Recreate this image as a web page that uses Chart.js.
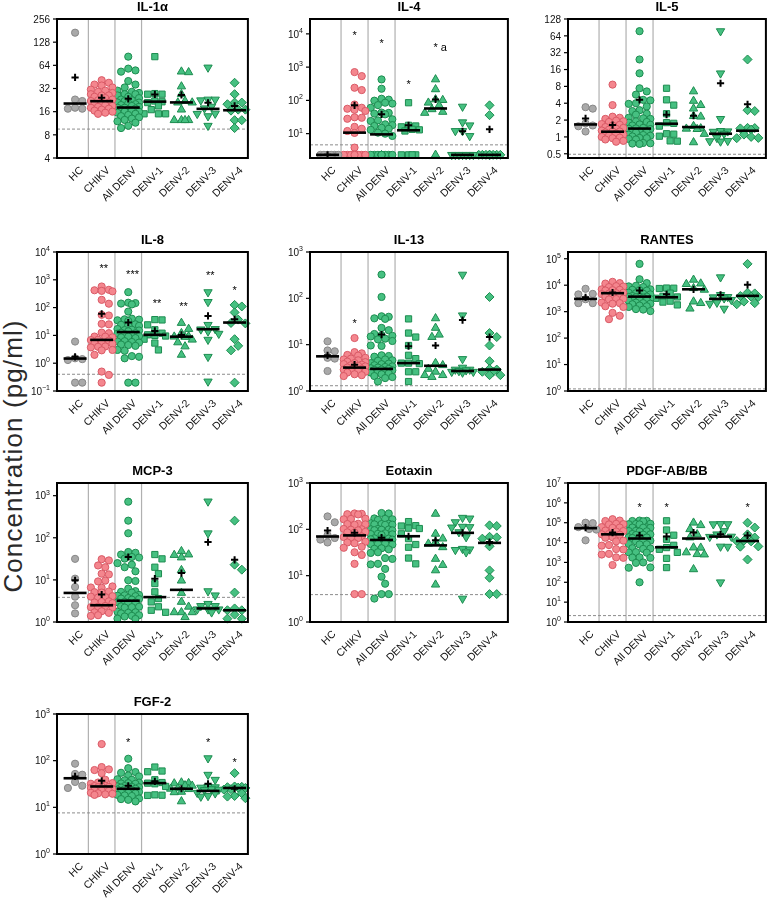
<!DOCTYPE html>
<html>
<head>
<meta charset="utf-8">
<script src="https://cdn.jsdelivr.net/npm/chart.js@4.4.1/dist/chart.umd.min.js"></script>
<style>
  body { margin: 0; background: #fff; }
  #page { position: relative; width: 778px; height: 899px; overflow: hidden; }
  #page canvas { position: absolute; }
  #ylab {
    position: absolute; left: -138px; top: 442px; width: 300px; height: 28px;
    line-height: 28px; text-align: center; transform: rotate(-90deg);
    font: 26px "Liberation Sans", Arial, sans-serif; letter-spacing: 1.1px; color: #2a2a2a;
  }
</style>
</head>
<body>
<div id="page">
  <div id="ylab">Concentration (pg/ml)</div>
</div>
<script>
// groupes communs a tous les panneaux
const groups = ['HC', 'CHIKV', 'All DENV', 'DENV-1', 'DENV-2', 'DENV-3', 'DENV-4'];

// IL-1a
const il1aValues = [
  [170, 23, 22, 17.5, 18, 17.5],
  [41, 38, 36, 35, 33, 31, 30, 29, 28, 27, 26, 26, 25, 24, 23, 22.5, 22, 21, 21, 20, 19.5, 19, 18.5, 18, 17.5, 17, 16.5, 16, 15.5, 15],
  [83, 58, 55, 53, 40, 36, 33, 30, 29, 28, 27, 27, 26, 25, 24, 23, 22.5, 22, 21, 21, 20.5, 20, 19.5, 19, 18.5, 18, 18, 17.5, 17, 17, 16.5, 16, 16, 15.5, 15, 14.5, 14, 13.5, 13, 12.5, 12, 11.5, 10.5, 9.8],
  [83, 27.5, 27, 27, 22, 21.5, 21, 19, 17, 15, 15, 15],
  [53, 52, 34, 27, 22, 21, 21, 17, 12.4, 12.4, 12.4, 12.4],
  [60, 23, 23, 22.5, 18.6, 17.7, 15.1, 15, 14, 10.5],
  [38, 27, 21, 21, 20, 17, 17, 16.5, 12.4, 12.4, 9.8]
];
const il1aMedians = [20.4, 21.9, 18.1, 21.6, 21.1, 17.4, 16.7];
const il1aMeans = [44.6, 24.2, 23.5, 26.8, 26.4, 20.9, 19];
const il1aStars = [];

// IL-4
const il4Values = [
  [2.3, 2.3, 2.3, 2.3, 2.3, 2.3],
  [708, 537, 240, 204, 75, 60, 56, 52, 48, 31, 30, 28, 16, 14, 12, 10.5, 3.8, 2.3, 2.3, 2.3, 2.3, 2.3, 2.3, 2.3, 2.3],
  [427, 224, 112, 105, 98, 85, 80, 72, 60, 43, 42, 40, 38, 27, 25, 24, 19, 18, 17, 15, 14, 13, 10.7, 10, 8.5, 2.3, 2.3, 2.3, 2.3, 2.3, 2.3, 2.3, 2.3, 2.3, 2.3, 2.3, 2.3, 2.3, 2.3],
  [85, 17.8, 17, 16, 13.5, 13, 12, 2.3, 2.3, 2.3, 2.3],
  [427, 215, 107, 102, 85, 71, 54, 45, 42, 2.3],
  [65, 22, 17.8, 12, 12, 8.5, 2.3, 2.3, 2.3, 2.3, 2.3, 2.3, 2.3],
  [71, 36, 2.3, 2.3, 2.3, 2.3, 2.3, 2.3, 2.3, 2.3, 2.3, 2.3]
];
const il4Medians = [2.3, 10.7, 9.5, 12.6, 57, 2.3, 2.3];
const il4Means = [2.3, 71, 38, 17.8, 107, 11.7, 13.5];
const il4Stars = [[1, 10000, '*'], [2, 5750, '*'], [3, 340, '*'], [4, 4470, '* a']];

// IL-5
const il5Values = [
  [3.2, 3.4, 1.75, 1.6, 1.55, 1.25],
  [8.6, 3.7, 2.3, 2.2, 2.1, 1.95, 1.9, 1.85, 1.7, 1.65, 1.6, 1.5, 1.45, 1.4, 1.35, 1.3, 1.25, 1.25, 1.2, 1.15, 1.1, 1.05, 1.0, 0.97, 0.95, 0.9, 0.85, 0.82],
  [77.6, 24.2, 13.7, 7.4, 6.5, 5.7, 4.6, 4.5, 4.0, 3.9, 3.5, 3.0, 2.9, 2.6, 2.5, 2.2, 2.15, 2.1, 1.9, 1.85, 1.8, 1.67, 1.65, 1.6, 1.45, 1.42, 1.4, 1.38, 1.26, 1.25, 1.22, 1.2, 1.1, 1.08, 1.05, 1.02, 0.96, 0.95, 0.92, 0.9, 0.78, 0.77, 0.76, 0.75],
  [7.4, 4.6, 3.7, 2.6, 1.8, 1.75, 1.56, 1.14, 1.12, 1.03, 0.85, 0.84],
  [6.5, 4.4, 3.7, 3.2, 2.35, 2.3, 1.56, 1.42, 1.4, 1.38, 1.13, 0.8],
  [77.6, 13.7, 2.1, 1.28, 1.26, 1.24, 1.14, 0.96, 0.85, 0.84, 0.83],
  [24.2, 3.0, 2.9, 1.45, 1.44, 1.42, 1.35, 1.1, 1.0, 0.96, 0.95]
];
const il5Medians = [1.67, 1.24, 1.41, 1.72, 1.5, 1.14, 1.29];
const il5Means = [2.14, 1.63, 4.6, 2.5, 2.4, 9.1, 3.83];
const il5Stars = [];

// IL-8
const il8Values = [
  [6.0, 1.4, 1.3, 1.5, 0.2, 0.2],
  [575, 437, 420, 400, 385, 190, 138, 55, 52, 26, 25, 12.6, 12, 9.1, 9, 8.5, 7.0, 6.8, 6.5, 5.3, 5.2, 5.0, 4.0, 3.9, 3.7, 3.0, 2.9, 2.0, 0.5, 0.38, 0.2],
  [360, 150, 145, 140, 130, 72, 40, 38, 37, 35, 33, 25, 24, 23, 22, 17, 16, 15.5, 15, 14, 12.5, 12, 11.5, 11, 10, 9.5, 9, 8.5, 8, 6.2, 6, 5.8, 5.5, 4.7, 4.5, 4.2, 3.0, 2.8, 1.8, 1.7, 1.5, 0.2, 0.2],
  [37, 36, 24, 16, 12, 10.5, 10, 9.5, 7.3, 5.3, 3.0],
  [28, 17, 12, 9.2, 9, 8.8, 7, 5.6, 4, 2.0],
  [360, 160, 24, 17, 16.5, 14, 11.5, 7, 1.7, 0.22],
  [125, 110, 67, 37, 28, 27, 7.3, 4.2, 2.9, 0.2]
];
const il8Medians = [1.47, 6.9, 13.2, 10.5, 9.0, 16.7, 29];
const il8Means = [1.7, 60, 29, 14.5, 10.4, 50, 38];
const il8Stars = [[1, 3000, '**'], [2, 1750, '***'], [3, 166, '**'], [4, 120, '**'], [5, 1660, '**'], [6, 465, '*']];

// IL-13
const il13Values = [
  [11.8, 7.5, 7.2, 5.2, 5.0, 2.7],
  [13.9, 6.9, 6.5, 6.0, 5.8, 5.2, 5.0, 4.8, 4.6, 4.3, 4.2, 4.0, 3.8, 3.7, 3.6, 3.5, 3.4, 3.2, 3.1, 3.0, 2.9, 2.8, 2.7, 2.6, 2.5, 2.3, 2.2, 2.1],
  [325, 107, 41, 40, 37, 36, 23, 20.5, 17, 16, 15.5, 15, 13.5, 13, 12, 9.6, 9.4, 5.9, 5.7, 5.5, 4.8, 4.6, 4.5, 4.0, 3.9, 3.8, 3.6, 3.4, 3.3, 3.2, 3.1, 3.0, 2.9, 2.85, 2.8, 2.7, 2.6, 2.5, 2.4, 2.3, 2.1, 2.0, 1.9, 1.6],
  [36, 17.8, 14.6, 9.6, 5.9, 5.0, 4.0, 4.0, 3.9, 2.6, 2.6, 1.6],
  [37, 23, 16.4, 14.6, 4.0, 3.6, 3.0, 2.6, 2.2, 2.2, 2.0],
  [325, 43, 4.9, 3.2, 2.9, 2.9, 2.8, 2.7, 2.6, 2.6, 2.5],
  [107, 17.8, 14.6, 9.6, 4.4, 3.0, 2.9, 2.6, 2.6, 2.2, 2.2]
];
const il13Medians = [5.6, 3.2, 3.0, 4.0, 3.5, 2.7, 2.9];
const il13Means = [5.9, 3.7, 16.5, 9.3, 9.6, 34, 14.6];
const il13Stars = [[1, 31, '*']];

// RANTES
const rantesValues = [
  [7300, 4700, 4500, 2950, 2100, 2100],
  [13400, 12000, 11500, 9200, 8900, 8500, 7000, 6700, 6500, 6300, 5200, 5000, 4800, 4600, 4000, 3900, 3700, 3100, 3000, 2900, 2200, 2100, 2000, 1600, 1500, 900, 700, 520],
  [64000, 16800, 12000, 9500, 9000, 8500, 7000, 6700, 6500, 6200, 5200, 5000, 4800, 4500, 3900, 3800, 3700, 3600, 3500, 3400, 3000, 2900, 2800, 2700, 2600, 2200, 2100, 2000, 1900, 1700, 1600, 1500, 1250, 1200, 1050],
  [7800, 7700, 7500, 5000, 3800, 3600, 3200, 2500, 2300, 1800],
  [16000, 11500, 11000, 7700, 6700, 2400, 2100, 1300],
  [20000, 4300, 3600, 3500, 3200, 2800, 2200, 2000, 1300],
  [64000, 5200, 4900, 3900, 3700, 3600, 2400, 2100, 1900]
];
const rantesMedians = [3040, 5000, 3700, 3500, 7000, 3040, 3950];
const rantesMeans = [3500, 5300, 6300, 4500, 7000, 4300, 10300];
const rantesStars = [];

// MCP-3
const mcp3Values = [
  [31.6, 10.7, 6.8, 4.0, 2.5, 1.6],
  [31, 29, 22, 20, 14, 13.5, 9.6, 9.2, 7, 6.6, 6.5, 5.3, 5.1, 5.0, 4.1, 4.0, 3.9, 3.8, 3.1, 3.0, 2.9, 2.8, 2.4, 2.3, 2.25, 2.2, 1.8, 1.7, 1.65, 1.45, 1.4],
  [720, 255, 128, 46, 44, 40, 35, 34, 32, 25, 23, 20, 16, 9.8, 9.4, 6.2, 5.4, 5.2, 5.0, 4.4, 4.3, 4.2, 4.1, 3.7, 3.6, 3.5, 3.4, 3.0, 2.95, 2.9, 2.85, 2.35, 2.3, 2.25, 2.2, 1.75, 1.7, 1.65, 1.6, 1.45, 1.4, 1.35, 1.2, 1.18],
  [40, 31.6, 20, 14, 8.2, 5.2, 3.6, 3.0, 2.3, 1.9, 1.7],
  [48, 40, 39, 34, 17, 9.6, 4.9, 3.0, 2.3, 1.7, 1.7, 1.7, 1.3],
  [730, 128, 5.4, 4.3, 2.7, 2.4, 2.4, 2.0, 2.0, 2.0, 1.7],
  [255, 23, 17.5, 5.0, 2.1, 1.9, 1.9, 1.5, 1.2, 1.2]
];
const mcp3Medians = [4.9, 2.5, 3.2, 3.9, 5.8, 2.1, 1.9];
const mcp3Means = [9.8, 4.5, 35, 10.7, 14.5, 79, 30];
const mcp3Stars = [];

// Eotaxin
const eotaxinValues = [
  [190, 142, 75, 65, 60, 52],
  [220, 216, 212, 210, 170, 168, 165, 132, 130, 128, 125, 102, 100, 98, 95, 88, 86, 85, 70, 68, 66, 65, 54, 52, 50, 42, 40, 32, 28, 18, 4, 4],
  [225, 220, 172, 168, 165, 160, 135, 132, 130, 128, 126, 125, 102, 100, 99, 98, 96, 95, 82, 80, 79, 78, 76, 64, 63, 62, 61, 60, 50, 49, 48, 47, 39, 38, 37, 32, 31, 24, 23, 18, 17.5, 14, 9.5, 6.7, 4, 4, 3.2],
  [147, 120, 118, 106, 104, 80, 63, 47, 41, 24, 18],
  [216, 80, 63, 53, 49, 41, 23, 17, 13, 6.4],
  [178, 172, 143, 114, 112, 110, 87, 68, 38, 37, 36, 32, 3.2],
  [122, 118, 69, 67, 63, 43, 13, 9, 4, 4]
];
const eotaxinMedians = [70, 74, 59, 71, 45, 84, 51];
const eotaxinMeans = [94, 84, 66, 71, 58, 84, 53];
const eotaxinStars = [];

// PDGF-AB/BB
const pdgfValues = [
  [100000, 95000, 60000, 48000, 45000, 13000],
  [150000, 128000, 122000, 88000, 85000, 82000, 60000, 57000, 55000, 40000, 38000, 36000, 27000, 26000, 25000, 18500, 17500, 12500, 11500, 7500, 7000, 4700, 4500, 2700, 2500, 1800, 1700, 740],
  [128000, 125000, 122000, 118000, 88000, 86000, 84000, 82000, 58000, 57000, 56000, 55000, 39000, 38000, 37000, 36000, 27000, 26000, 25000, 24000, 18500, 18000, 17500, 17000, 12500, 12000, 11500, 8500, 8200, 8000, 5200, 5000, 4800, 3300, 3200, 3100, 1800, 1750, 1700, 1000, 950, 560, 540, 100],
  [125000, 43000, 23500, 14600, 7300, 5600, 4600, 3200, 1600, 550],
  [100000, 75000, 47000, 26000, 18000, 5600, 5500, 3200, 2600, 2500, 450],
  [86000, 85000, 84000, 38000, 26000, 20000, 19500, 6300, 6200, 100],
  [100000, 57000, 26000, 18000, 12500, 12000, 11500, 6400, 6200, 1400]
];
const pdgfMedians = [53000, 26000, 16000, 5800, 16000, 20000, 12000];
const pdgfMeans = [57000, 32000, 23000, 20000, 32000, 26000, 23000];
const pdgfStars = [[2, 710000, '*'], [3, 710000, '*'], [6, 710000, '*']];

// FGF-2
const fgf2Values = [
  [86, 52, 50, 35, 29, 26],
  [227, 73, 65, 63, 54, 39, 34, 33, 32, 29, 28.5, 28, 27.5, 27, 26, 24.5, 24, 23.5, 23, 22.5, 20.5, 20, 19.5, 19, 18.5],
  [110, 69, 57, 55, 48, 46, 40, 39, 38, 34, 33, 32.5, 32, 28.5, 28, 27.5, 27, 26.5, 25.5, 25, 24.5, 24, 23.5, 21.5, 21, 20.5, 20, 18.5, 18, 17.5, 15.5, 15, 14.5, 13.4],
  [73, 60, 58, 39, 34, 33, 32, 28, 18.5, 18.2, 18],
  [34, 33, 32.5, 29.5, 29, 25.5, 25, 24.5, 21.5, 21, 13.4],
  [113, 50, 39, 27.5, 27, 26.5, 24.5, 24, 23.5, 20.5, 20, 17.5, 17],
  [54, 28, 27.5, 27, 26.5, 26, 24.5, 24, 20, 17.5, 17, 15.7]
];
const fgf2Medians = [42, 28, 25, 33, 25, 22.5, 26];
const fgf2Means = [46, 37, 29, 36, 25, 32, 25];
const fgf2Stars = [[2, 270, '*'], [5, 270, '*'], [6, 100, '*']];

// ticks des axes y
const log2Ticks = [4, 8, 16, 32, 64, 128, 256];
const il5Ticks = [0.5, 1, 2, 4, 8, 16, 32, 64, 128];
const pow10Ticks = [0.1, 1, 10, 100, 1000, 10000, 100000, 1000000, 10000000];

// panneaux: titre, donnees, axe y (min, max, ticks), limite de detection
const panels = [
  { title: 'IL-1α', values: il1aValues, medians: il1aMedians, means: il1aMeans, stars: il1aStars, yMin: 4, yMax: 256, ticks: log2Ticks, pow: false, lod: 9.5 },
  { title: 'IL-4', values: il4Values, medians: il4Medians, means: il4Means, stars: il4Stars, yMin: 1.85, yMax: 28000, ticks: [10, 100, 1000, 10000], pow: true, lod: 4.6 },
  { title: 'IL-5', values: il5Values, medians: il5Medians, means: il5Means, stars: il5Stars, yMin: 0.42, yMax: 128, ticks: il5Ticks, pow: false, lod: 0.49 },
  { title: 'IL-8', values: il8Values, medians: il8Medians, means: il8Means, stars: il8Stars, yMin: 0.1, yMax: 10000, ticks: pow10Ticks, pow: true, lod: 0.4 },
  { title: 'IL-13', values: il13Values, medians: il13Medians, means: il13Means, stars: il13Stars, yMin: 1, yMax: 1000, ticks: pow10Ticks, pow: true, lod: 1.3 },
  { title: 'RANTES', values: rantesValues, medians: rantesMedians, means: rantesMeans, stars: rantesStars, yMin: 1, yMax: 180000, ticks: pow10Ticks, pow: true, lod: 1.2 },
  { title: 'MCP-3', values: mcp3Values, medians: mcp3Medians, means: mcp3Means, stars: mcp3Stars, yMin: 1, yMax: 2000, ticks: pow10Ticks, pow: true, lod: 3.85 },
  { title: 'Eotaxin', values: eotaxinValues, medians: eotaxinMedians, means: eotaxinMeans, stars: eotaxinStars, yMin: 1, yMax: 1000, ticks: pow10Ticks, pow: true, lod: 3.9 },
  { title: 'PDGF-AB/BB', values: pdgfValues, medians: pdgfMedians, means: pdgfMeans, stars: pdgfStars, yMin: 1, yMax: 10000000, ticks: pow10Ticks, pow: true, lod: 2.1 },
  { title: 'FGF-2', values: fgf2Values, medians: fgf2Medians, means: fgf2Means, stars: fgf2Stars, yMin: 1, yMax: 1000, ticks: pow10Ticks, pow: true, lod: 7.6 }
];

// zones de trace (gauche, droite, xmin, xmax) et (haut, bas) en pixels de page
const cols = [[57, 259, -0.68, 6.5], [310, 519, -0.65, 6.68], [568, 777, -0.65, 6.68]];
const rows = [[19, 158], [252, 391], [483, 622], [714, 854]];

// styles des groupes
const grey = ['#a9a9a9', '#878787'];
const pink = ['#f4868e', '#d95a66'];
const green = ['#46c081', '#1d8c50'];
const groupStyle = [
  { c: grey, shape: 'circle', r: 3.6, rot: 0 },
  { c: pink, shape: 'circle', r: 3.6, rot: 0 },
  { c: green, shape: 'circle', r: 3.6, rot: 0 },
  { c: green, shape: 'rect', r: 4.4, rot: 0 },
  { c: green, shape: 'triangle', r: 4.8, rot: 0 },
  { c: green, shape: 'triangle', r: 4.8, rot: 180 },
  { c: green, shape: 'rectRot', r: 4.5, rot: 0 }
];

const PADL = 52, PADT = 24, PADR = 3, PADB = 68;
const FONT = '"Liberation Sans", Arial, sans-serif';

// repartition en essaim (beeswarm) dans un groupe, en pixels
function swarm(vals, toPx, unit) {
  const d = 7.6;
  const cands = [0];
  for (let k = 1; k <= 3; k++) cands.push(k * d / 2, -k * d / 2);
  const placed = [];
  const out = new Array(vals.length);
  const idx = vals.map((v, i) => i).sort((a, b) => vals[b] - vals[a]);
  idx.forEach(i => {
    const y = toPx(vals[i]);
    let best = 0, bestGap = -1;
    for (const c of cands) {
      let gap = Infinity;
      placed.forEach(p => { gap = Math.min(gap, Math.hypot(p.x - c, p.y - y)); });
      if (gap >= d * 0.95) { best = c; break; }
      if (gap > bestGap) { bestGap = gap; best = c; }
    }
    placed.push({ x: best, y: y });
    out[i] = best / unit;
  });
  return out;
}

function drawLabel10(ctx, v, x, y) {
  const e = String(Math.round(Math.log10(v))).replace('-', '−');
  ctx.font = '7px ' + FONT;
  const ew = ctx.measureText(e).width;
  ctx.textAlign = 'left';
  ctx.fillText(e, x - ew, y - 4);
  ctx.font = '10px ' + FONT;
  ctx.textAlign = 'right';
  ctx.fillText('10', x - ew, y);
}

const decor = {
  id: 'decor',
  beforeDatasetsDraw(chart) {
    const p = chart.canvas.$panel;
    const a = chart.chartArea, ctx = chart.ctx;
    const xs = chart.scales.x, ys = chart.scales.y;
    ctx.save();
    // separateurs verticaux
    ctx.strokeStyle = '#b0b0b0';
    ctx.lineWidth = 1.2;
    [0.5, 1.5, 2.5].forEach(v => {
      const x = xs.getPixelForValue(v);
      ctx.beginPath(); ctx.moveTo(x, a.top); ctx.lineTo(x, a.bottom); ctx.stroke();
    });
    // limite de detection
    const yl = ys.getPixelForValue(p.lod);
    ctx.strokeStyle = '#8c8c8c';
    ctx.lineWidth = 1;
    ctx.setLineDash([3, 2]);
    ctx.beginPath(); ctx.moveTo(a.left, yl); ctx.lineTo(a.right, yl); ctx.stroke();
    ctx.restore();
  },
  afterDraw(chart) {
    const p = chart.canvas.$panel;
    const a = chart.chartArea, ctx = chart.ctx;
    const xs = chart.scales.x, ys = chart.scales.y;
    ctx.save();
    ctx.strokeStyle = '#000';
    ctx.fillStyle = '#111';
    ctx.lineWidth = 2;
    ctx.strokeRect(a.left, a.top, a.right - a.left, a.bottom - a.top);
    // ticks y
    ctx.lineWidth = 1.2;
    ctx.textBaseline = 'middle';
    p.ticks.filter(v => v >= p.yMin * 0.999 && v <= p.yMax * 1.001).forEach(v => {
      const y = ys.getPixelForValue(v);
      ctx.beginPath(); ctx.moveTo(a.left - 4, y); ctx.lineTo(a.left, y); ctx.stroke();
      if (p.pow) {
        drawLabel10(ctx, v, a.left - 7, y + 1);
      } else {
        ctx.font = '10px ' + FONT;
        ctx.textAlign = 'right';
        ctx.fillText(String(v), a.left - 7, y + 1);
      }
    });
    // etiquettes x inclinees
    ctx.font = '10.5px ' + FONT;
    ctx.textAlign = 'right';
    ctx.textBaseline = 'top';
    groups.forEach((g, i) => {
      const x = xs.getPixelForValue(i);
      ctx.save();
      ctx.translate(x + 3, a.bottom + 7);
      ctx.rotate(-Math.PI / 4);
      ctx.fillText(g, 0, 0);
      ctx.restore();
    });
    // titre
    ctx.font = 'bold 13px ' + FONT;
    ctx.textAlign = 'center';
    ctx.textBaseline = 'middle';
    ctx.fillStyle = '#000';
    ctx.fillText(p.title, (a.left + a.right) / 2, a.top - 12);
    // asterisques
    ctx.font = '11px ' + FONT;
    p.stars.forEach(s => {
      const x = xs.getPixelForValue(s[0]);
      const y = ys.getPixelForValue(s[1]);
      const w = ctx.measureText('*').width;
      ctx.textAlign = 'left';
      ctx.fillText(s[2], x - w / 2, y + 2);
    });
    ctx.restore();
  }
};

const page = document.getElementById('page');

panels.forEach((p, k) => {
  const col = cols[k % 3], row = rows[Math.floor(k / 3)];
  const plotW = col[1] - col[0], plotH = row[1] - row[0];
  const canvas = document.createElement('canvas');
  canvas.width = plotW + PADL + PADR;
  canvas.height = plotH + PADT + PADB;
  canvas.style.left = (col[0] - PADL) + 'px';
  canvas.style.top = (row[0] - PADT) + 'px';
  canvas.$panel = p;
  page.appendChild(canvas);

  const unit = plotW / (col[3] - col[2]);
  const lmin = Math.log(p.yMin), lmax = Math.log(p.yMax);
  const toPx = v => plotH * (Math.log(v) - lmin) / (lmax - lmin);

  const datasets = [];
  // medianes et moyennes par-dessus les points
  datasets.push({
    data: p.medians.map((m, i) => ({ x: i, y: m })),
    pointStyle: 'line', pointRadius: 11.5, pointHoverRadius: 11.5,
    pointBorderColor: '#000', pointBorderWidth: 2.6, clip: false
  });
  datasets.push({
    data: p.means.map((m, i) => ({ x: i, y: m })),
    pointStyle: 'cross', pointRadius: 3.6, pointHoverRadius: 3.6,
    pointBorderColor: '#000', pointBorderWidth: 2, clip: false
  });
  p.values.forEach((vals, i) => {
    const st = groupStyle[i];
    const offs = swarm(vals, toPx, unit);
    datasets.push({
      data: vals.map((v, j) => ({ x: i + offs[j], y: v })),
      pointStyle: st.shape, pointRotation: st.rot,
      pointRadius: st.r, pointHoverRadius: st.r,
      pointBackgroundColor: st.c[0], pointBorderColor: st.c[1], pointBorderWidth: 1,
      clip: false
    });
  });

  new Chart(canvas, {
    type: 'scatter',
    data: { datasets: datasets },
    options: {
      responsive: false,
      animation: false,
      events: [],
      layout: { padding: { left: PADL, top: PADT, right: PADR, bottom: PADB } },
      plugins: { legend: { display: false }, tooltip: { enabled: false }, title: { display: false } },
      scales: {
        x: { type: 'linear', min: col[2], max: col[3], display: false },
        y: { type: 'logarithmic', min: p.yMin, max: p.yMax, display: false }
      }
    },
    plugins: [decor]
  });
});
</script>
</body>
</html>
